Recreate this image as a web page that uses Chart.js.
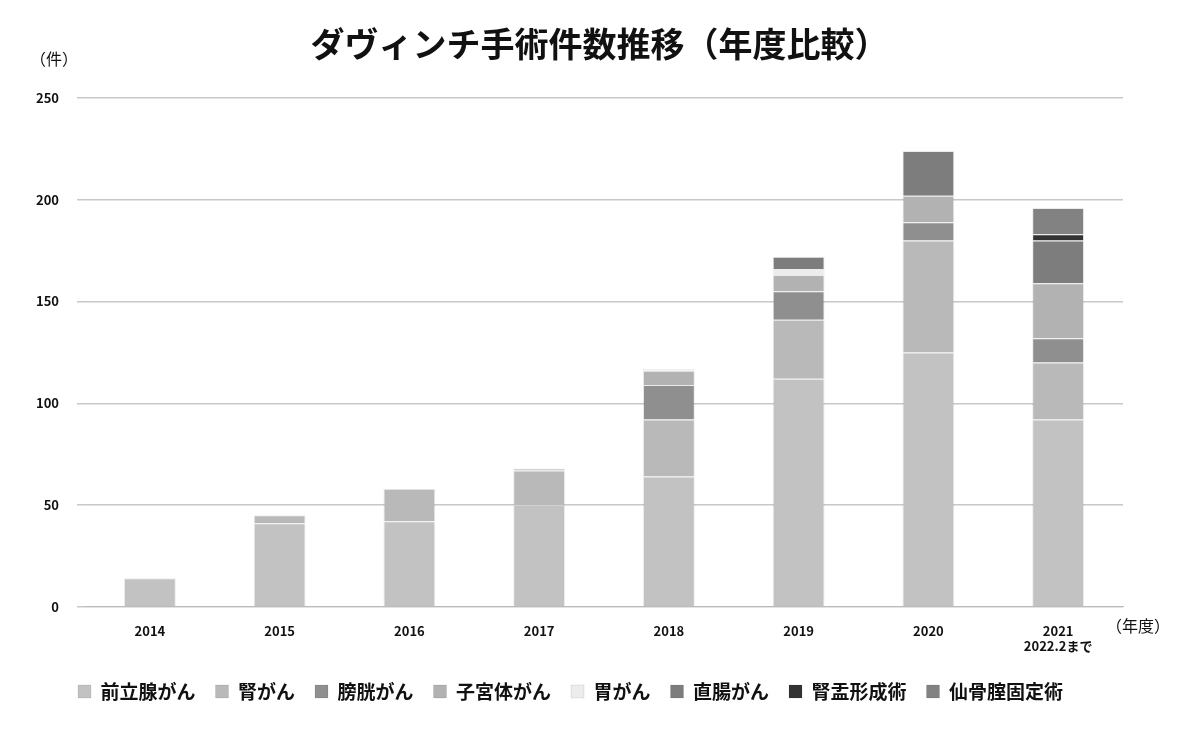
<!DOCTYPE html><html><head><meta charset="utf-8">
<script src="https://cdn.jsdelivr.net/npm/chart.js@4"></script>
<style>body{margin:0;background:#fff}#w{position:relative;width:1199px;height:737px}
.t{position:absolute;font-family:"Noto Sans CJK JP";color:#111}</style></head><body>
<div id="w"><canvas id="c" width="1199" height="737"></canvas>
<div class="t" style="left:0;width:1199px;top:18px;text-align:center;font-size:34px;font-weight:bold">ダヴィンチ手術件数推移（年度比較）</div>
<div class="t" style="left:30px;top:46px;font-size:16px">（件）</div>
<div class="t" style="left:1106px;top:613px;font-size:16px">（年度）</div>
</div>
<script>
const categories=["2014","2015","2016","2017","2018","2019","2020",["2021","2022.2まで"]];
const seriesNames=["前立腺がん","腎がん","膀胱がん","子宮体がん","胃がん","直腸がん","腎盂形成術","仙骨腟固定術"];
const prostate=[14,41,42,50,64,112,125,92];
const kidney=[0,4,16,17,28,29,55,28];
const bladder=[0,0,0,0,17,14,9,12];
const uterus=[0,0,0,1,7,8,13,27];
const stomach=[0,0,0,0,1,3,0,0];
const rectum=[0,0,0,0,0,6,22,21];
const pyelo=[0,0,0,0,0,0,0,3];
const sacro=[0,0,0,0,0,0,0,13];
const yTicks=[0,50,100,150,200,250];
const colors=["#c2c2c2","#b9b9b9","#8f8f8f","#b2b2b2","#ececec","#7d7d7d","#333333","#828282"];
const all=[prostate,kidney,bladder,uterus,stomach,rectum,pyelo,sacro];
new Chart(document.getElementById('c'),{type:'bar',
data:{labels:categories,datasets:all.map((d,i)=>({label:seriesNames[i],data:d,backgroundColor:colors[i],borderColor:'rgba(0,0,0,0.08)',borderWidth:1,barPercentage:0.4,categoryPercentage:1}))},
options:{responsive:false,animation:false,
layout:{padding:{top:98,left:18,right:76,bottom:26}},
plugins:{legend:{position:'bottom',labels:{font:{family:"Noto Sans CJK JP",size:19,weight:'bold'},color:'#111',boxWidth:13,boxHeight:13,padding:20}},tooltip:{enabled:false}},
scales:{x:{stacked:true,grid:{display:false},border:{color:'#bbb'},ticks:{font:{family:"Noto Sans CJK JP",size:13,weight:'bold'},color:'#111',padding:8}},
y:{stacked:true,min:0,max:250,afterBuildTicks:s=>{s.ticks=yTicks.map(v=>({value:v}))},grid:{color:'#c8c8c8',lineWidth:1.5},border:{display:false},ticks:{font:{family:"Noto Sans CJK JP",size:13,weight:'bold'},color:'#111',padding:18}}}}});
</script></body></html>
